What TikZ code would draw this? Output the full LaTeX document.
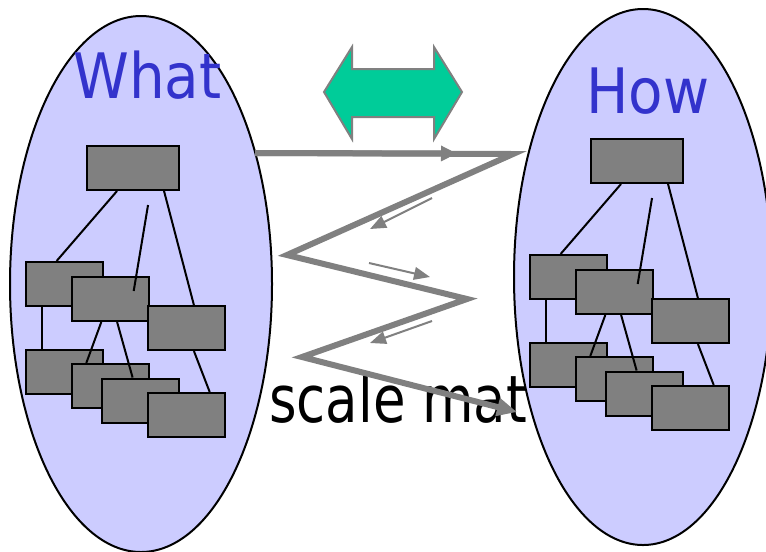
\documentclass[tikz,border=0pt]{standalone}
\usepackage{fontspec}
\setmainfont{DejaVu Sans}
\usetikzlibrary{arrows.meta,calc,shapes.geometric}
\definecolor{lav}{HTML}{CCCCFF}
\definecolor{boxgray}{HTML}{808080}
\definecolor{lblue}{HTML}{3333CC}
\definecolor{mint}{HTML}{00CC99}
\definecolor{zig}{HTML}{808080}
\tikzset{
  ell/.style={ellipse, draw=black, line width=1.5pt, fill=lav, inner sep=0pt},
  tbox/.style={draw=black, line width=1.5pt, fill=boxgray, minimum width=57.75pt, minimum height=33pt, inner sep=0pt},
  ttop/.style={tbox, minimum width=69pt},
  link/.style={draw=black, line width=1.5pt},
  bigword/.style={lblue, font=\fontsize{47}{50}\selectfont, inner sep=0pt, anchor=base west},
  blackword/.style={black, font=\fontsize{49}{52}\selectfont, inner sep=0pt, anchor=base west},
  zigline/.style={draw=zig, line width=4.5pt, line join=miter, miter limit=20},
  zighead/.style={-{Triangle[length=12pt,width=11pt]}},
  zigend/.style={-{Triangle[length=15pt,width=13pt]}},
  thinarrow/.style={draw=zig, line width=1.5pt, -{Triangle[length=12pt,width=9.5pt]}},
  dblarrow/.style={draw=boxgray, line width=1.5pt, fill=mint, line join=miter}
}
\begin{document}
\begin{tikzpicture}[x=0.75pt,y=-0.75pt]
\useasboundingbox (0,0) rectangle (766,551);
\clip (0,0) rectangle (766,551);
% ellipses
\node[ell, minimum width=196.5pt, minimum height=402pt] (whatell) at (141,284) {};
\node[ell, minimum width=193.5pt, minimum height=402pt] (howell) at (643,277) {};
% titles
\node[bigword] (whatlbl) at (73,98) {\scalebox{0.9}[1]{What}};
\node[bigword] (howlbl) at (586,113) {\scalebox{0.9}[1]{How}};
% hierarchies
\foreach \s/\dx/\dy in {L/0/0, R/504/-7}{
  \begin{scope}[shift={(\dx,\dy)}]
    \node[tbox] (\s A) at (64.5,284) {};
    \node[tbox] (\s B) at (110,299) {};
    \node[tbox] (\s C) at (186,328) {};
    \node[tbox] (\s D) at (64.5,371.5) {};
    \node[tbox] (\s E) at (110,386) {};
    \node[tbox] (\s F) at (140.5,400.5) {};
    \node[tbox] (\s G) at (186,415) {};
    \node[ttop] (\s T) at (133,168) {};
    \draw[link] ($(\s T.south west)!0.33!(\s T.south east)$) -- ($(\s A.north west)!0.40!(\s A.north east)$);
    \draw[link] ($(\s T.south west)!0.66!(\s T.south east)+(0,14)$) -- ($(\s B.north west)!0.80!(\s B.north east)+(0,15)$);
    \draw[link] ($(\s T.south west)!0.83!(\s T.south east)$) -- ($(\s C.north west)!0.60!(\s C.north east)$);
    \draw[link] ($(\s A.south west)!0.21!(\s A.south east)$) -- ($(\s D.north west)!0.21!(\s D.north east)$);
    \draw[link] ($(\s B.south west)!0.39!(\s B.south east)$) -- ($(\s E.north west)!0.20!(\s E.north east)$);
    \draw[link] ($(\s B.south west)!0.59!(\s B.south east)$) -- ($(\s F.north west)!0.40!(\s F.north east)$);
    \draw[link] ($(\s C.south west)!0.60!(\s C.south east)$) -- ($(\s G.north west)!0.80!(\s G.north east)$);
  \end{scope}
}
% bottom text
\node[blackword] (scalelbl) at (269,422) {\scalebox{0.81}[1]{scale mat}};
% double arrow
\draw[dblarrow] (324,92) -- (352,47) -- (352,69) -- (434,69) -- (434,47) -- (462,92)
  -- (434,139) -- (434,117) -- (352,117) -- (352,139) -- cycle;
% zigzag
\coordinate (z0) at (255,153);
\coordinate (z1) at (513,154);
\coordinate (z2) at (287,255);
\coordinate (z3) at (467,299);
\coordinate (z4) at (302,357);
\coordinate (z5) at (517,412);
\coordinate (zm) at (457,153.5);
\path[zigline, zigend] (z0) -- (z1) -- (z2) -- (z3) -- (z4) -- (z5);
\path[zigline, zighead] (z0) -- (zm);
% thin arrows
\coordinate (t1a) at (432,198); \coordinate (t1b) at (370,229);
\coordinate (t2a) at (369,263); \coordinate (t2b) at (430,277);
\coordinate (t3a) at (432,321); \coordinate (t3b) at (370,343);
\path[thinarrow] (t1a) -- (t1b);
\path[thinarrow] (t2a) -- (t2b);
\path[thinarrow] (t3a) -- (t3b);
\end{tikzpicture}
\end{document}
